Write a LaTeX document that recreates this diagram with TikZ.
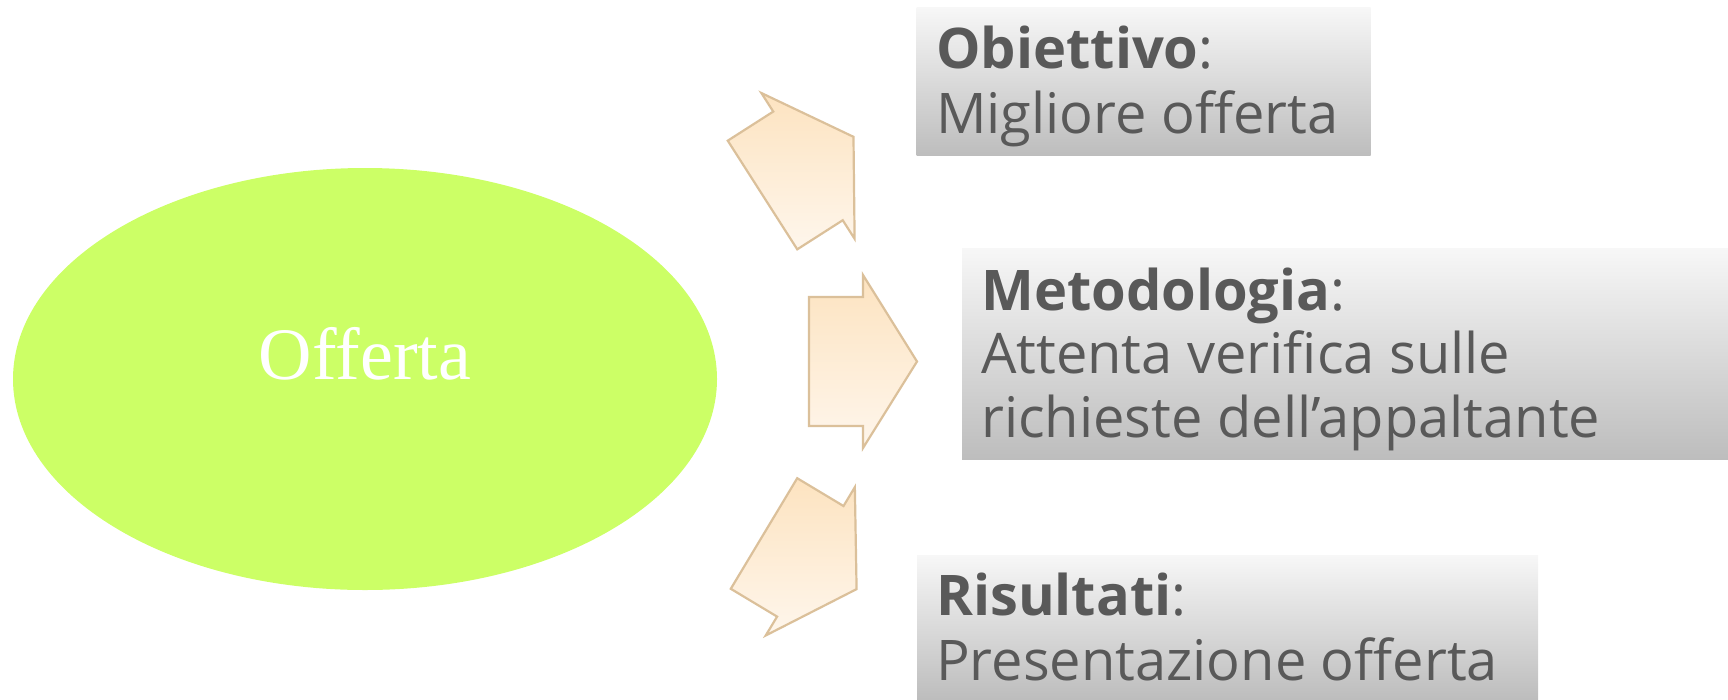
\documentclass[tikz,border=0pt]{standalone}
\usepackage{fontspec}
\usetikzlibrary{shapes.geometric}
\newfontfamily\boxfont{Open Sans}
\newfontfamily\offfont{Liberation Serif}
\definecolor{lime}{HTML}{CCFF66}
\definecolor{txtgray}{HTML}{595959}
\definecolor{arrowtop}{HTML}{FDE3C0}
\definecolor{arrowbot}{HTML}{FEF6EC}
\definecolor{arrowline}{HTML}{DBC09A}
\definecolor{boxtop}{HTML}{F7F7F7}
\definecolor{boxmid}{HTML}{E2E2E2}
\definecolor{boxbot}{HTML}{BDBDBD}
\tikzset{
  x=1pt, y=-1pt,
  infobox/.style={rectangle, inner sep=0pt, top color=boxtop, middle color=boxmid, bottom color=boxbot, draw=none},
  boxtext/.style={anchor=base west, inner sep=0pt, text=txtgray, font=\boxfont\fontsize{56}{66}\selectfont},
  blockarrow/.style={top color=arrowtop, bottom color=arrowbot, draw=arrowline, line width=2.2pt, line join=miter},
}
\newcommand{\blockarr}{(0,-64.5) -- (54,-64.5) -- (54,-86.5) -- (108,0) -- (54,86.5) -- (54,64.5) -- (0,64.5) -- cycle}
\begin{document}
\begin{tikzpicture}
\useasboundingbox (0,0) rectangle (1728,699);
% central ellipse
\node[ellipse, fill=lime, minimum width=704pt, minimum height=422pt, inner sep=0pt] (offerta) at (365,379) {};
\node[anchor=base, text=white, inner sep=0pt, font=\offfont\fontsize{74}{80}\selectfont] (offtxt) at (365,379) {Offerta};
% block arrows
\begin{scope}[shift={(762.5,195)}, rotate=32.6]
  \shade[blockarrow] \blockarr;
\end{scope}
\begin{scope}[shift={(809,361.5)}]
  \shade[blockarrow] \blockarr;
\end{scope}
\begin{scope}[shift={(764,533.5)}, rotate=-31]
  \shade[blockarrow] \blockarr;
\end{scope}
% boxes
\node[infobox, minimum width=454pt, minimum height=148pt] (obj) at (1143.5,81.5) {};
\node[infobox, minimum width=766pt, minimum height=211pt] (met) at (1345,353.5) {};
\node[infobox, minimum width=621pt, minimum height=144pt] (ris) at (1227.5,627) {};
% texts
\node[boxtext] (objt1) at (936,68) {\textbf{Obiettivo}:};
\node[boxtext] (objt2) at (936,133) {Migliore offerta};
\node[boxtext] (mett1) at (981,310) {\textbf{Metodologia}:};
\node[boxtext] (mett2) at (981,373) {Attenta verifica sulle};
\node[boxtext] (mett3) at (981,437) {richieste dell’appaltante};
\node[boxtext] (rist1) at (936,615) {\textbf{Risultati}:};
\node[boxtext] (rist2) at (936,680) {Presentazione offerta};
\end{tikzpicture}
\end{document}
